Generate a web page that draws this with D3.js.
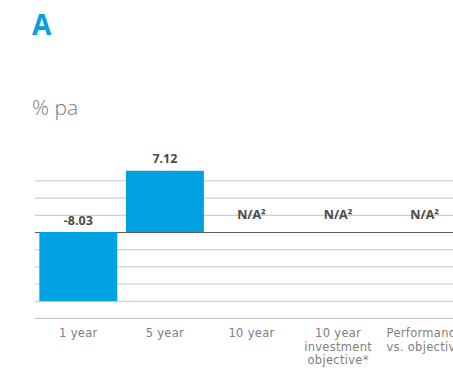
<!DOCTYPE html>
<html>
<head>
<meta charset="utf-8">
<script src="https://cdn.jsdelivr.net/npm/d3@7"></script>
<style>
  html, body { margin: 0; padding: 0; background: #fff; }
  svg { display: block; }
</style>
</head>
<body>
<svg id="chart" width="453" height="374"></svg>
<script>
// Annualised performance, % pa
const categories = ["1 year", "5 year", "10 year", "10 year investment objective*", "Performance vs. objective"];
const categoryLines = [["1 year"], ["5 year"], ["10 year"], ["10 year", "investment", "objective*"], ["Performance", "vs. objective"]];
const values = [-8.03, 7.12, null, null, null];
const valueLabels = ["-8.03", "7.12", "N/A²", "N/A²", "N/A²"];
const gridTicks = [-10, -8, -6, -4, -2, 0, 2, 4, 6];

const svg = d3.select("#chart");
const font = "'Open Sans', 'Lato', sans-serif";
const labelFont = "'DejaVu Sans', sans-serif";

const plot = { left: 35, right: 468, zeroY: 232 };
const x = d3.scaleBand().domain(categories).range([plot.left, plot.right]).paddingInner(0.1).paddingOuter(0.05);
const y = d3.scaleLinear().domain([0, 6]).range([plot.zeroY, plot.zeroY - 51.6]);

// Title and unit
svg.append("text").attr("x", 32).attr("y", 35)
  .attr("font-family", font).attr("font-weight", 700).attr("font-size", 28)
  .attr("fill", "#00a1e1").text("A");
svg.append("text").attr("x", 32).attr("y", 115)
  .attr("font-family", font).attr("font-weight", 300).attr("font-size", 21)
  .attr("fill", "#7a7a7a").text("% pa");

// Gridlines
const grid = svg.append("g")
  .attr("transform", `translate(${plot.left},0)`)
  .call(d3.axisRight(y).tickValues(gridTicks).tickSize(453).tickFormat(""));
grid.select(".domain").remove();
grid.selectAll(".tick line")
  .attr("stroke", d => d === 0 ? "#5a5a5a" : "#c4c4c4")
  .attr("stroke-width", d => d === 0 ? 1.2 : 1);

// Bars
svg.append("g").selectAll("rect")
  .data(categories.map((c, i) => ({ c, v: values[i] })).filter(d => d.v !== null))
  .join("rect")
  .attr("x", d => x(d.c))
  .attr("width", x.bandwidth())
  .attr("y", d => y(Math.max(0, d.v)))
  .attr("height", d => Math.abs(y(d.v) - y(0)))
  .attr("fill", "#00a1e1");

// Value labels
svg.append("g").selectAll("text")
  .data(categories.map((c, i) => ({ c, v: values[i], label: valueLabels[i] })))
  .join("text")
  .attr("x", d => x(d.c) + x.bandwidth() / 2)
  .attr("y", d => d.v === null ? y(0) - 13.5 : (d.v > 0 ? y(d.v) - 8 : y(0) - 7))
  .attr("text-anchor", "middle")
  .attr("font-family", font).attr("font-weight", 700).attr("font-size", 12.5)
  .attr("fill", "#4a4a4a")
  .text(d => d.label);

// Category axis labels
const xAxis = svg.append("g")
  .attr("transform", `translate(0,${y(-10) + 19})`)
  .call(d3.axisBottom(x).tickSize(0).tickFormat(""));
xAxis.select(".domain").remove();
xAxis.selectAll(".tick").each(function(d, i) {
  const t = d3.select(this).append("text")
    .attr("text-anchor", "middle")
    .attr("font-family", labelFont).attr("font-size", 11.5)
    .attr("letter-spacing", 0.3)
    .attr("fill", "#808080");
  categoryLines[i].forEach((line, j) => {
    t.append("tspan").attr("x", 0).attr("y", j * 13.5).text(line);
  });
});
</script>
</body>
</html>
